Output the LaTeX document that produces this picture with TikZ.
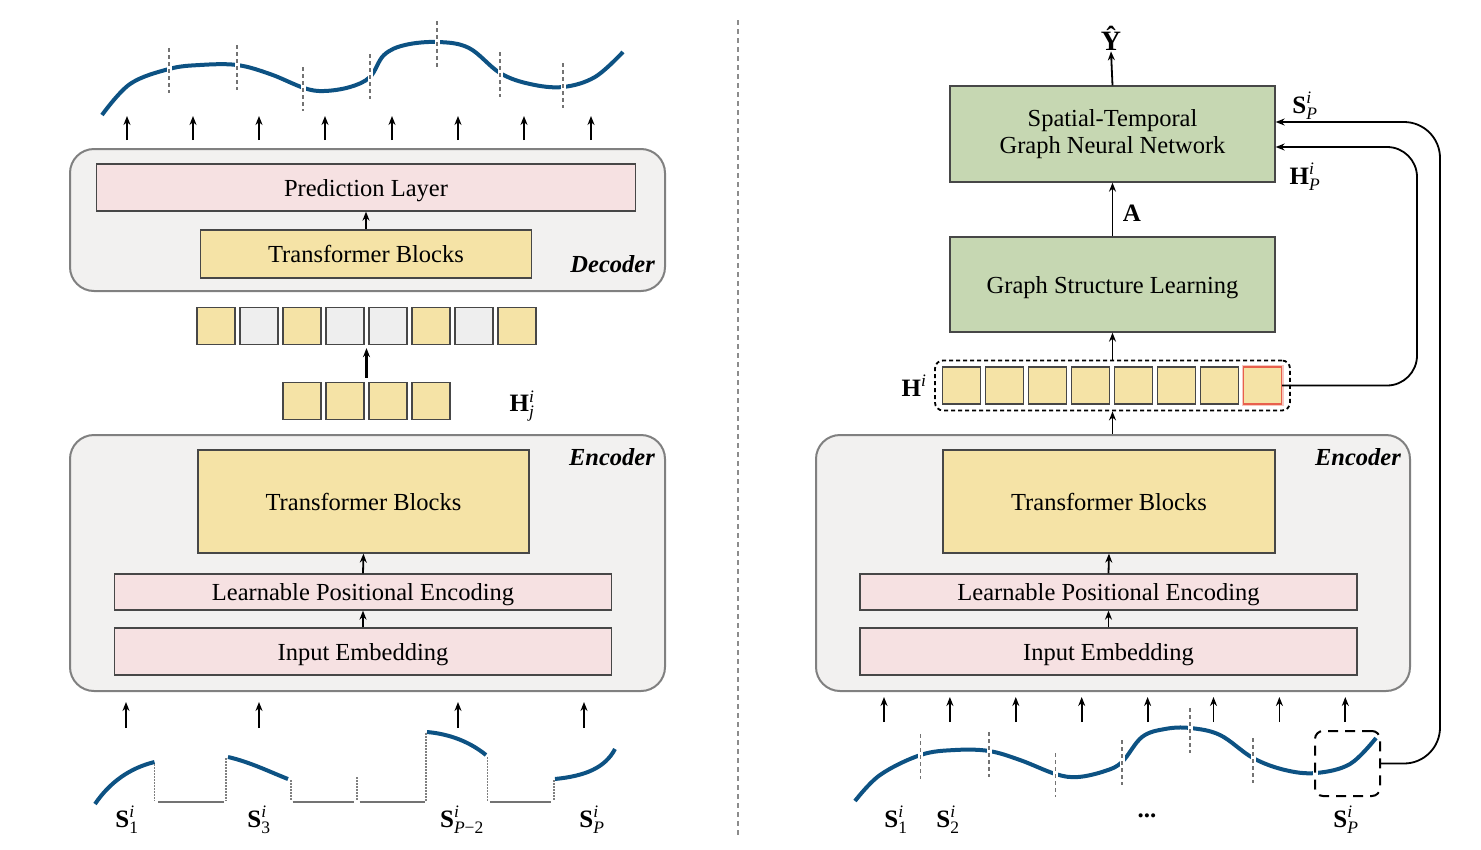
\documentclass[tikz,border=0pt]{standalone}
\usepackage{fontspec}
\usepackage{amsmath}
\setmainfont{Liberation Serif}
\usetikzlibrary{arrows.meta,calc}
\definecolor{boxgray}{HTML}{F2F1F0}
\definecolor{pinkc}{HTML}{F6E1E2}
\definecolor{yelc}{HTML}{F5E3A6}
\definecolor{greenc}{HTML}{C6D7B2}
\definecolor{sqgray}{HTML}{EEEEEE}
\definecolor{curvec}{HTML}{0D5283}
\definecolor{redc}{HTML}{E8604C}
\newcommand{\fs}{\fontsize{24.5}{28}\selectfont}
\newcommand{\lfs}{\fontsize{25}{28}\selectfont}
\newcommand{\vS}[1]{$\textbf{S}^{\textit{i}}_{\text{#1}}$}
\begin{document}
\begin{tikzpicture}[x=1pt,y=-1pt,
  outer/.style={draw=black!50, line width=2pt, fill=boxgray, rounded corners=24pt, inner sep=0pt},
  blk/.style={draw=black!72, line width=1.3pt, inner sep=0pt, font=\fs, align=center},
  onel/.style={text depth=0pt},
  pinkbox/.style={blk, fill=pinkc},
  yelbox/.style={blk, fill=yelc},
  greenbox/.style={blk, fill=greenc},
  sq/.style={draw=black!72, line width=1.3pt, minimum width=38pt, minimum height=37pt, inner sep=0pt, fill=yelc},
  arr/.style={-{Stealth[length=9pt,width=7pt]}, line width=1.8pt},
  curve/.style={draw=curvec, line width=4pt},
  seg/.style={draw=black!55, line width=1.5pt, dash pattern=on 4pt off 3pt},
  gap/.style={draw=white, line width=5pt},
  dotv/.style={draw=black!50, line width=1.2pt, dash pattern=on 1.5pt off 1.5pt},
  flat/.style={draw=black!55, line width=2.5pt},
  lab/.style={font=\lfs, inner sep=1pt},
  tag/.style={font=\fs\bfseries\itshape, inner sep=0pt, anchor=east}
]
\useasboundingbox (0,0) rectangle (1481,849);

% ---------------- separator
\draw[draw=black!45, line width=2pt, dash pattern=on 5pt off 4pt] (738,20) -- (738,835);

% ================= LEFT PANEL
% top curve
\draw[curve] plot[smooth, tension=0.6] coordinates {(102,115) (130,84) (169,69) (200,65) (237,65) (270,74) (304,88) (324,91) (350,87) (370,77) (384,55) (405,45) (438,42) (469,48) (500,73) (530,84) (563,87) (595,77) (623,52)};
\foreach \x/\a/\b in {169/48/93, 237/45/90, 303/67/111, 370/54/99, 437/21/67, 500/52/97, 563/63/108}{
  \draw[gap] (\x,\a) -- (\x,\b);
  \draw[seg] (\x,\a) -- (\x,\b);
}
\foreach \x in {127,193,259,325,392,458,524,591}{
  \coordinate (ta\x) at (\x,140); \coordinate (tb\x) at (\x,116);
  \draw[arr] (ta\x) -- (tb\x);
}

% decoder
\node[outer, minimum width=595pt, minimum height=142pt] (dec) at (367.5,220) {};
\node[pinkbox, onel, minimum width=539pt, minimum height=47pt] (pred) at (366,187.5) {Prediction Layer};
\node[yelbox, onel, minimum width=331pt, minimum height=48pt] (tb1) at (366,254) {Transformer Blocks};
\draw[arr] (tb1.north) -- (pred.south);
\node[tag] (dectag) at (655,264) {Decoder};

% token rows
\foreach \i/\c in {1/yelc,2/sqgray,3/yelc,4/sqgray,5/sqgray,6/yelc,7/sqgray,8/yelc}{
  \node[sq, fill=\c] (l\i) at ({216+43*(\i-1)},326) {};
}
\foreach \i in {1,2,3,4}{
  \node[sq] (m\i) at ({302+43*(\i-1)},401) {};
}
\draw[arr, line width=2.2pt] ($(m2.north east)!.5!(m3.north west)+(0,-4)$) -- ($(l4.south east)!.5!(l5.south west)+(0,3)$);
\node[lab] (hj) at (522,406) {$\textbf{H}^{\textit{i}}_{\textit{j}}$};

% encoder
\node[outer, minimum width=595pt, minimum height=256pt] (enc) at (367.5,563) {};
\node[tag] (enctag) at (655,457) {Encoder};
\node[yelbox, onel, minimum width=331pt, minimum height=103pt] (tb2) at (363.5,501.5) {Transformer Blocks};
\node[pinkbox, onel, minimum width=497pt, minimum height=36pt] (lpe) at (363,592) {Learnable Positional Encoding};
\node[pinkbox, onel, minimum width=497pt, minimum height=47pt] (ie) at (363,651.5) {Input Embedding};
\draw[arr] (lpe.north) -- (tb2.south);
\draw[arr] (ie.north) -- (lpe.south);

\foreach \x in {126,259,458,584}{
  \coordinate (ba\x) at (\x,728); \coordinate (bb\x) at (\x,702);
  \draw[arr] (ba\x) -- (bb\x);
}

% bottom-left patches
\draw[curve] (95,804) .. controls (110,782) and (130,768) .. (154.5,762);
\draw[curve] (228,757) .. controls (250,762) and (270,772) .. (288,779);
\draw[curve] (427,732) .. controls (450,734) and (470,742) .. (486,755);
\draw[curve] (555,779) .. controls (585,776) and (605,768) .. (615,749);
\foreach \x/\a in {154.5/764, 226/758, 291/780, 357/777, 426/733, 487.5/757, 554/780}{
  \draw[dotv] (\x,\a) -- (\x,801);
}
\foreach \a/\b in {158/224, 292.5/353.5, 359.5/425, 490/551}{
  \draw[flat] (\a,802) -- (\b,802);
}
\node[lab] (s1) at (127,820) {\vS{1}};
\node[lab] (s3) at (259,820) {\vS{3}};
\node[lab] (sp2) at (462,820) {$\textbf{S}^{\textit{i}}_{\text{\textit{P}−2}}$};
\node[lab] (sp) at (592,820) {$\textbf{S}^{\textit{i}}_{\textit{P}}$};

% ================= RIGHT PANEL
\node[font=\fontsize{28}{30}\selectfont, inner sep=1pt] (yhat) at (1111,38) {\textbf{Ŷ}};
\node[greenbox, minimum width=325pt, minimum height=96pt] (stgnn) at (1112.5,134) {Spatial-Temporal\\[-1pt]Graph Neural Network};
\node[greenbox, onel, minimum width=325pt, minimum height=95pt] (gsl) at (1112.5,284.5) {Graph Structure Learning};
\draw[arr] (stgnn.north) -- (yhat.south);
\draw[arr] (gsl.north) -- (stgnn.south);
\node[lab] (alab) at (1132,213) {\textbf{A}};

\node[draw, line width=1.8pt, dash pattern=on 4pt off 3pt, rounded corners=8pt, minimum width=355pt, minimum height=50pt, inner sep=0pt] (hbox) at (1112.5,385.5) {};
\node[draw=redc!35, line width=4pt, minimum width=38pt, minimum height=37pt, inner sep=0pt] (h8glow) at ({961.5+43*7},385.5) {};
\foreach \i in {1,...,7}{
  \node[sq] (h\i) at ({961.5+43*(\i-1)},385.5) {};
}
\node[sq, draw=redc] (h8) at ({961.5+43*7},385.5) {};
\node[lab] (hi) at (914,386) {$\textbf{H}^{\textit{i}}$};
\draw[arr] (hbox.north) -- (gsl.south);

\node[outer, minimum width=594pt, minimum height=256pt] (enc2) at (1113,563) {};
\node[tag] (enctag2) at (1401,457) {Encoder};
\node[yelbox, onel, minimum width=332pt, minimum height=103pt] (tb3) at (1109,501.5) {Transformer Blocks};
\node[pinkbox, onel, minimum width=497pt, minimum height=36pt] (lpe2) at (1108.5,592) {Learnable Positional Encoding};
\node[pinkbox, onel, minimum width=497pt, minimum height=47pt] (ie2) at (1108.5,651.5) {Input Embedding};
\draw[arr] (lpe2.north) -- (tb3.south);
\draw[arr] (ie2.north) -- (lpe2.south);
\draw[arr] (enc2.north -| hbox.south) -- (hbox.south);

\foreach \i in {0,...,7}{
  \coordinate (ra\i) at ({884+65.9*\i},722); \coordinate (rb\i) at ({884+65.9*\i},697);
  \draw[arr] (ra\i) -- (rb\i);
}

% bottom-right curve
\draw[curve] plot[smooth, tension=0.6] coordinates {(855,801) (880,775) (920.5,755) (955,750) (989,751) (1020,760) (1055.5,774) (1078,777) (1105,771) (1122,762) (1142,737) (1165,729) (1190,728) (1220,735) (1253,758) (1285,770) (1316,773) (1350,764) (1376,738)};
\foreach \x/\a/\b in {920.5/734/779, 989/732/777, 1055.5/753/797, 1122/740/785, 1190/708/753, 1253/738/783}{
  \draw[gap] (\x,\a) -- (\x,\b);
  \draw[seg] (\x,\a) -- (\x,\b);
}
\draw[gap] (1315,765) -- (1315,781);
\node[draw, line width=2pt, dash pattern=on 10pt off 7pt, rounded corners=8pt, minimum width=65pt, minimum height=65pt, inner sep=0pt] (pbox) at (1347.5,763.5) {};

\node[lab] (r1) at (896,820) {\vS{1}};
\node[lab] (r2) at (948,820) {\vS{2}};
\node[lab] (rdots) at (1147,816) {\textbf{...}};
\node[lab] (rp) at (1346,820) {$\textbf{S}^{\textit{i}}_{\textit{P}}$};

% feedback connectors
\draw[arr, rounded corners=36pt] (pbox.east) -| (1440,122) -- ([yshift=12pt]stgnn.east);
\draw[arr, rounded corners=30pt] (h8.east) -| (1417,147) -- ([yshift=-13pt]stgnn.east);
\node[lab] (splab) at (1305,106) {$\textbf{S}^{\textit{i}}_{\textit{P}}$};
\node[lab] (hplab) at (1305,177) {$\textbf{H}^{\textit{i}}_{\textit{P}}$};
\end{tikzpicture}
\end{document}
